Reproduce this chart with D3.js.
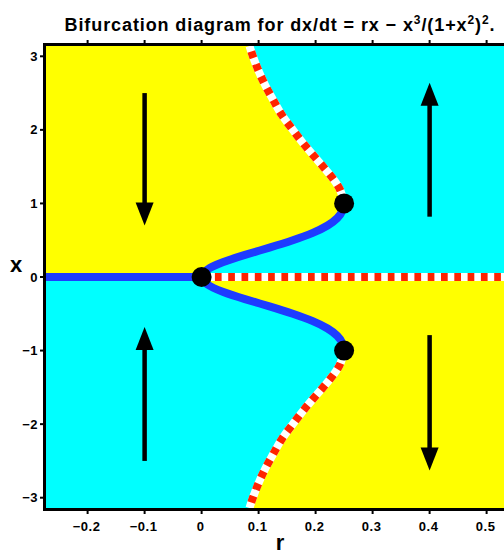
<!DOCTYPE html>
<html>
<head>
<meta charset="utf-8">
<script src="https://cdn.jsdelivr.net/npm/d3@7"></script>
<style>
  html, body { margin: 0; padding: 0; background: #fff; }
  svg { display: block; }
  text { font-family: "Liberation Sans", Arial, Helvetica, sans-serif; font-weight: bold; fill: #000; }
</style>
</head>
<body>
<div id="chart"></div>
<script>
// Fixed points of dx/dt = r x - x^3/(1+x^2)^2 : upper branch (x > 0), mirrored for x < 0.
// Stable part of the branch, from the origin to the saddle-node point.
const stableX = [0, 0.1, 0.2, 0.3, 0.4, 0.5, 0.6, 0.7, 0.8, 0.9, 1.0];
const stableR = [0, 0.010, 0.037, 0.076, 0.119, 0.160, 0.195, 0.221, 0.238, 0.247, 0.250];
// Unstable part, from the saddle-node point out to the edge of the window.
const unstableX = [1.0, 1.2, 1.4, 1.6, 1.8, 2.0, 2.2, 2.4, 2.6, 2.8, 3.0, 3.14];
const unstableR = [0.250, 0.242, 0.224, 0.202, 0.180, 0.160, 0.141, 0.126, 0.112, 0.100, 0.090, 0.084];

// Bifurcation points (r, x)
const bifR = [0, 0.25, 0.25];
const bifX = [0, 1, -1];

// Flow direction arrows: r position, start x, end x
const arrowR = [-0.1, -0.1, 0.4, 0.4];
const arrowFrom = [2.5, -2.5, 0.82, -0.79];
const arrowTo = [0.70, -0.68, 2.64, -2.63];

// Axis ticks
const rTicks = [-0.2, -0.1, 0, 0.1, 0.2, 0.3, 0.4, 0.5];
const rTickLabels = ["\u22120.2", "\u22120.1", "0", "0.1", "0.2", "0.3", "0.4", "0.5"];
const xTicks = [-3, -2, -1, 0, 1, 2, 3];
const xTickLabels = ["\u22123", "\u22122", "\u22121", "0", "1", "2", "3"];

const rMin = -0.273, rMax = 0.55, xMax = 3.14;

const W = 504, H = 554;
const pLeft = 46, pTop = 46, pBottom = 508;

const sx = d3.scaleLinear().domain([rMin, rMax]).range([pLeft, pLeft + (rMax - rMin) * 570]);
const sy = d3.scaleLinear().domain([-xMax, xMax]).range([pBottom, pTop]);
const pRight = sx(rMax);

const svg = d3.select("#chart").append("svg").attr("width", W).attr("height", H);

svg.append("clipPath").attr("id", "plotclip")
  .append("rect").attr("x", pLeft).attr("y", pTop).attr("width", pRight - pLeft).attr("height", pBottom - pTop);

const g = svg.append("g").attr("clip-path", "url(#plotclip)");

const yellow = "#ffff00", cyan = "#00ffff", blue = "#1e3cff", red = "#ff2400";

// Points along a branch, sign = +1 for upper, -1 for lower
const pts = (xs, rs, sign) => xs.map((v, i) => [rs[i], sign * v]);
const curve = d3.line().x(d => sx(d[0])).y(d => sy(d[1])).curve(d3.curveNatural);

// Base fills: upper half cyan, lower half yellow
g.append("rect").attr("x", pLeft).attr("y", pTop).attr("width", pRight - pLeft).attr("height", sy(0) - pTop).attr("fill", cyan);
g.append("rect").attr("x", pLeft).attr("y", sy(0)).attr("width", pRight - pLeft).attr("height", pBottom - sy(0)).attr("fill", yellow);

// Region left of the branch: yellow above the axis, cyan below
[[1, yellow], [-1, cyan]].forEach(([sign, col]) => {
  const full = pts(stableX, stableR, sign).concat(pts(unstableX.slice(1), unstableR.slice(1), sign));
  const rev = full.slice().reverse();
  const d = curve(rev) + "L" + sx(rMin - 0.05) + "," + sy(0) + "L" + sx(rMin - 0.05) + "," + sy(sign * (xMax + 0.2)) +
            "L" + sx(rev[0][0]) + "," + sy(sign * (xMax + 0.2)) + "Z";
  g.append("path").attr("d", d).attr("fill", col);
});

// Stable branches (blue)
g.append("line").attr("x1", sx(rMin)).attr("x2", sx(0)).attr("y1", sy(0)).attr("y2", sy(0))
  .attr("stroke", blue).attr("stroke-width", 8);
[1, -1].forEach(sign => {
  g.append("path").attr("d", curve(pts(stableX, stableR, sign)))
    .attr("fill", "none").attr("stroke", blue).attr("stroke-width", 8);
});

// Unstable branches (red/white dashes)
const drawUnstable = (d) => {
  g.append("path").attr("d", d).attr("fill", "none").attr("stroke", "#fff").attr("stroke-width", 8);
  g.append("path").attr("d", d).attr("fill", "none").attr("stroke", red).attr("stroke-width", 8)
    .attr("stroke-dasharray", "6.7,6.6");
};
drawUnstable("M" + sx(0) + "," + sy(0) + "L" + sx(rMax) + "," + sy(0));
[1, -1].forEach(sign => drawUnstable(curve(pts(unstableX, unstableR, sign))));

// Bifurcation points
g.selectAll("circle.bif").data(bifR).join("circle")
  .attr("class", "bif")
  .attr("cx", d => sx(d)).attr("cy", (d, i) => sy(bifX[i])).attr("r", 10).attr("fill", "#000");

// Flow arrows
arrowR.forEach((r, i) => {
  const x0 = sx(r), y0 = sy(arrowFrom[i]), y1 = sy(arrowTo[i]);
  const dir = Math.sign(y1 - y0);
  const headLen = 23, headW = 9;
  const yBase = y1 - dir * headLen;
  g.append("line").attr("x1", x0).attr("x2", x0).attr("y1", y0).attr("y2", yBase + dir * 2)
    .attr("stroke", "#000").attr("stroke-width", 4.5);
  g.append("path").attr("d", `M${x0 - headW},${yBase}L${x0 + headW},${yBase}L${x0},${y1}Z`).attr("fill", "#000");
});

// Frame
svg.append("path")
  .attr("d", `M${pRight + 10},${pTop - 1.5}H${pLeft - 1.5}V${pBottom + 1.5}H${pRight + 10}`)
  .attr("fill", "none").attr("stroke", "#000").attr("stroke-width", 3);

// Ticks (outward)
rTicks.forEach(t => {
  svg.append("line").attr("x1", sx(t)).attr("x2", sx(t)).attr("y1", pTop - 3).attr("y2", pTop - 6)
    .attr("stroke", "#000").attr("stroke-width", 2);
  svg.append("line").attr("x1", sx(t)).attr("x2", sx(t)).attr("y1", pBottom + 3).attr("y2", pBottom + 6)
    .attr("stroke", "#000").attr("stroke-width", 2);
});
xTicks.forEach(t => {
  svg.append("line").attr("x1", pLeft - 3).attr("x2", pLeft - 6).attr("y1", sy(t)).attr("y2", sy(t))
    .attr("stroke", "#000").attr("stroke-width", 2);
});

// Tick labels
svg.selectAll("text.rt").data(rTicks).join("text").attr("class", "rt")
  .attr("x", d => sx(d) - 1).attr("y", 531).attr("text-anchor", "middle").attr("font-size", 13)
  .attr("letter-spacing", 0.5)
  .text((d, i) => rTickLabels[i]);
svg.selectAll("text.xt").data(xTicks).join("text").attr("class", "xt")
  .attr("x", 38).attr("y", d => sy(d) + 4.5).attr("text-anchor", "end").attr("font-size", 13)
  .attr("letter-spacing", 0.5)
  .text((d, i) => xTickLabels[i]);

// Axis labels
svg.append("text").attr("x", 280).attr("y", 550).attr("text-anchor", "middle").attr("font-size", 22).text("r");
svg.append("text").attr("x", 16).attr("y", 272).attr("text-anchor", "middle").attr("font-size", 22).text("x");

// Title with superscripts
const title = svg.append("text").attr("x", 280).attr("y", 31).attr("text-anchor", "middle").attr("font-size", 18)
  .attr("letter-spacing", 0.9);
title.append("tspan").text("Bifurcation diagram for dx/dt = rx \u2212 x");
title.append("tspan").attr("dy", -7).attr("font-size", 12).text("3");
title.append("tspan").attr("dy", 7).text("/(1+x");
title.append("tspan").attr("dy", -7).attr("font-size", 12).text("2");
title.append("tspan").attr("dy", 7).text(")");
title.append("tspan").attr("dy", -7).attr("font-size", 12).text("2");
title.append("tspan").attr("dy", 7).text(".");
</script>
</body>
</html>
